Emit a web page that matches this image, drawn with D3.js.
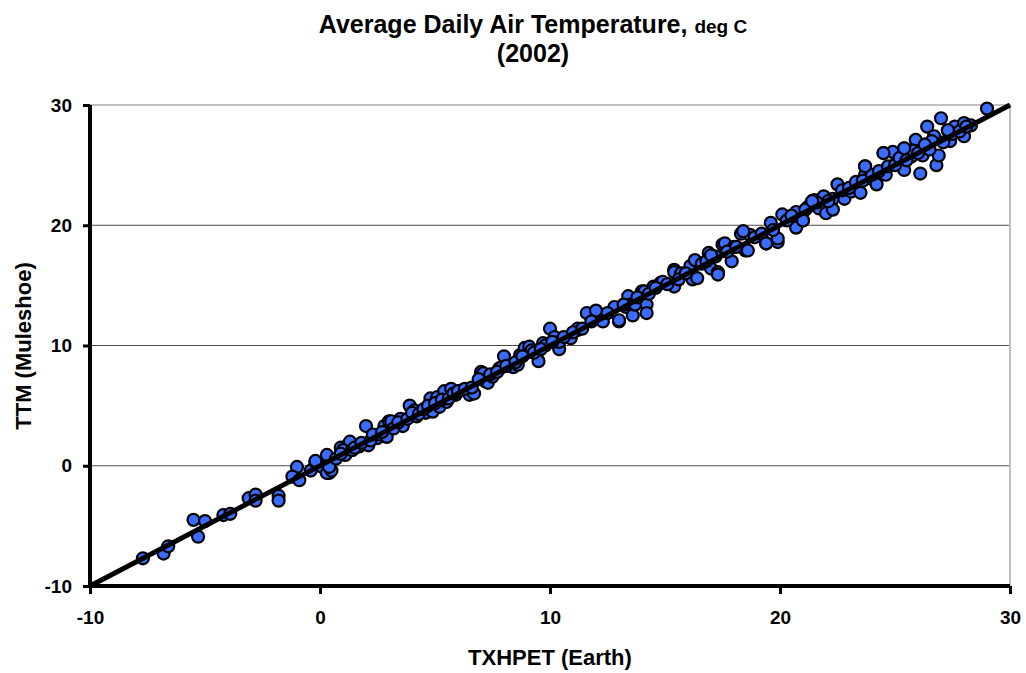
<!DOCTYPE html>
<html>
<head>
<meta charset="utf-8">
<script src="https://cdn.jsdelivr.net/npm/d3@7"></script>
<style>
  body { margin: 0; background: #fff; }
  text { font-family: "Liberation Sans", Arial, sans-serif; font-weight: bold; fill: #000; }
</style>
</head>
<body>
<svg id="chart" width="1026" height="673"></svg>
<script>
// values (Earth vs Muleshoe, deg C)
const earthTemp = [
  -7.7, -6.8, -6.6, -5.5, -5.0, -5.3, -4.2, -3.9, -3.1, -2.8, -2.8, -1.8, -1.8,
  -1.0, -1.2, -0.9, -0.4, -0.2, 0.1, 0.3, 0.4, 0.3, 0.5, -0.2, 0.4,
  0.9, 1.2, 1.1, 1.3, 1.0, 1.7, 2.0, 2.1, 2.5, 2.6, 2.8, 2.9, 3.0, 3.1, 3.5, 3.6,
  3.9, 4.1, 4.2, 4.6, 4.8, 4.9, 5.1, 5.2, 5.4, 5.5, 5.7, 5.9, 6.2, 6.4, 6.5, 6.7,
  7.0, 7.0, 7.1, 7.2, 7.3, 7.5, 7.8, 7.9, 8.0, 8.3, 8.4, 8.6, 8.7, 8.9, 9.1, 9.2,
  9.5, 9.7, 9.8, 10.0, 10.2, 10.4, 10.4, 10.9, 11.2, 11.2, 11.6, 12.0, 12.3,
  12.8, 13.0, 13.0, 13.3, 13.4, 13.5, 13.6, 13.7, 14.0, 14.1, 14.2, 14.2, 14.5,
  14.8, 14.9, 15.4, 15.4, 15.4, 15.7, 16.1, 16.2, 16.3, 16.4, 16.9, 17.0, 17.0,
  17.3, 17.3, 17.5, 17.6, 17.9, 18.0, 18.3, 18.4, 18.5, 18.6, 18.7, 19.4, 19.4,
  19.6, 19.9, 19.9, 20.1, 20.7, 20.7, 21.0, 21.2, 21.4, 21.5, 21.7, 21.9, 22.0,
  22.3, 22.3, 22.5, 22.8, 23.1, 23.5, 23.7, 23.7, 23.9, 24.2, 24.5, 24.6, 24.9,
  25.1, 25.4, 25.4, 25.7, 25.9, 26.1, 26.2, 26.3, 26.4, 26.7, 26.8, 26.9, 27.0,
  27.3, 27.4, 27.6, 28.0, 28.0, 28.3, 29.0,
  0.7, 0.9, 1.4, 1.5, 1.8, 2.2, 2.3, 2.7, 3.2, 3.4, 3.8, 4.0, 4.3, 4.5, 4.7,
  5.0, 5.3, 5.6, 5.8, 6.0, 6.3, 6.6, 6.9, 7.4, 7.7, 8.1, 8.5, 8.8, 9.3, 9.6,
  10.1, 10.6, 11.0, 11.4, 11.8, 12.5, 13.2, 13.8, 14.3, 14.6, 15.1, 15.6, 15.9,
  16.6, 16.8, 17.2, 17.7, 18.1, 18.9, 19.2, 19.7, 20.3, 20.5, 21.1, 21.6, 22.1,
  22.7, 23.0, 23.3, 23.6, 24.0, 24.3, 24.7, 25.0, 25.2, 25.5, 25.8, 26.0, 26.5,
  26.6, 27.1, 27.5, 27.8, 28.1, 17.0, 18.4, 19.4, 21.0, 21.4, 23.7, 24.5, 25.4,
  26.3, 27.3
];
const mulesTemp = [
  -7.7, -7.3, -6.7, -4.5, -4.6, -5.9, -4.1, -4.0, -2.7, -2.4, -2.9, -2.5, -2.9,
  -0.1, -0.9, -1.2, -0.4, 0.3, -0.1, 0.9, -0.6, -0.6, -0.4, 0.4, -0.1,
  1.5, 1.7, 0.9, 2.0, 1.3, 1.6, 3.3, 1.7, 2.3, 2.6, 3.3, 2.4, 3.7, 3.7, 3.9, 3.3,
  5.0, 4.6, 4.1, 4.4, 5.6, 4.5, 5.7, 4.9, 6.2, 5.3, 6.4, 5.9, 6.3, 6.3, 5.9, 6.0,
  7.8, 7.4, 7.7, 7.0, 6.9, 7.4, 8.1, 8.2, 9.1, 8.4, 8.2, 8.4, 9.2, 9.8, 9.9, 9.6,
  8.7, 10.2, 10.0, 11.4, 10.7, 9.7, 10.3, 10.6, 11.3, 11.4, 12.7, 12.9, 12.0,
  13.2, 12.0, 12.1, 13.2, 14.1, 13.4, 12.5, 13.4, 14.5, 14.5, 13.4, 12.7, 14.9,
  15.2, 15.3, 16.3, 16.1, 14.9, 16.0, 16.6, 15.5, 17.1, 15.6, 17.7, 17.5, 16.4,
  16.1, 15.9, 18.4, 18.5, 17.0, 18.2, 19.3, 19.5, 17.9, 17.9, 19.2, 18.5, 18.5,
  20.2, 18.6, 18.9, 20.9, 19.8, 21.1, 20.4, 21.5, 22.0, 22.1, 21.4, 22.4, 21.0,
  22.2, 21.3, 23.4, 22.2, 22.8, 22.7, 24.9, 24.2, 23.9, 23.4, 26.0, 24.2, 26.1,
  25.3, 26.4, 24.6, 25.7, 27.1, 24.3, 25.8, 26.7, 28.2, 27.4, 25.0, 25.8, 28.9,
  27.9, 27.0, 28.2, 28.5, 27.4, 28.3, 29.7,
  0.6, 1.0, 1.3, 1.5, 1.9, 2.1, 2.6, 2.8, 3.1, 3.6, 3.9, 4.4, 4.3, 4.7, 5.0,
  5.2, 5.5, 5.6, 6.0, 6.2, 6.4, 6.5, 7.2, 7.6, 7.8, 8.3, 8.6, 9.1, 9.4, 9.7,
  10.3, 10.7, 11.1, 11.4, 12.0, 12.7, 13.4, 14.0, 14.3, 14.8, 15.1, 15.5, 16.0,
  16.8, 17.0, 17.4, 17.8, 18.2, 19.0, 19.3, 19.6, 20.4, 20.8, 21.3, 21.9, 22.0,
  22.9, 23.1, 23.6, 23.7, 24.2, 24.5, 24.9, 25.0, 25.6, 25.4, 26.2, 26.0, 26.3,
  27.0, 26.9, 27.6, 27.8, 28.2, 17.5, 19.5, 18.5, 20.4, 22.0, 24.9, 26.0, 26.4,
  26.7, 27.9
];
const fitX = [-10, 30];
const fitY = [-10, 30];
const xTicks = [-10, 0, 10, 20, 30];
const yTicks = [-10, 0, 10, 20, 30];

const svg = d3.select('#chart');
const plotL = 90, plotR = 1010, plotT = 105, plotB = 586;

const x = d3.scaleLinear().domain([-10, 30]).range([plotL, plotR]);
const y = d3.scaleLinear().domain([-10, 30]).range([plotB, plotT]);

// grid lines
svg.append('g')
  .selectAll('line')
  .data(yTicks.filter(d => d > -10 && d < 30))
  .enter().append('line')
    .attr('x1', plotL).attr('x2', plotR)
    .attr('y1', d => y(d)).attr('y2', d => y(d))
    .attr('stroke', '#4d4d4d')
    .attr('stroke-width', 1);

// plot frame (top / right)
svg.append('path')
  .attr('d', `M${plotL},${plotT}H${plotR}V${plotB}`)
  .attr('fill', 'none')
  .attr('stroke', '#c0c0c0')
  .attr('stroke-width', 2);

// axes (plain hyphen for negatives, like the original)
const fmt = d => String(d);
const xAxis = svg.append('g')
  .attr('transform', `translate(0,${plotB})`)
  .call(d3.axisBottom(x).tickValues(xTicks).tickFormat(fmt).tickSize(8).tickPadding(17));
const yAxis = svg.append('g')
  .attr('transform', `translate(${plotL},0)`)
  .call(d3.axisLeft(y).tickValues(yTicks).tickFormat(fmt).tickSize(7).tickPadding(11));

[xAxis, yAxis].forEach(g => {
  g.select('.domain').attr('stroke', '#000').attr('stroke-width', 4);
  g.selectAll('.tick line').attr('stroke', '#000').attr('stroke-width', 3);
  g.selectAll('.tick text')
    .attr('fill', '#000')
    .style('font-size', '19px')
    .style('font-family', '"Liberation Sans", Arial, sans-serif')
    .style('font-weight', 'bold');
});
xAxis.select('.domain').attr('d', `M${plotL - 2},0H${plotR}`);
yAxis.select('.domain').attr('d', `M0,${plotT}V${plotB + 2}`);

// points
const pts = earthTemp.map((d, i) => ({e: d, m: mulesTemp[i]}));
svg.append('g')
  .selectAll('circle')
  .data(pts)
  .enter().append('circle')
    .attr('cx', d => x(d.e))
    .attr('cy', d => y(d.m))
    .attr('r', 6)
    .attr('fill', '#3a6cff')
    .attr('stroke', '#000')
    .attr('stroke-width', 2.2);

// 1:1 line
svg.append('path')
  .datum(fitX.map((d, i) => [d, fitY[i]]))
  .attr('d', d3.line().x(d => x(d[0])).y(d => y(d[1])))
  .attr('stroke', '#000')
  .attr('stroke-width', 5)
  .attr('fill', 'none');

// titles
const title = svg.append('text')
  .attr('x', 533).attr('y', 33)
  .attr('text-anchor', 'middle')
  .style('font-size', '25px');
title.append('tspan').text('Average Daily Air Temperature, ');
title.append('tspan').style('font-size', '19px').text('deg C');

svg.append('text')
  .attr('x', 533).attr('y', 62)
  .attr('text-anchor', 'middle')
  .style('font-size', '25px')
  .text('(2002)');

svg.append('text')
  .attr('x', 550).attr('y', 665)
  .attr('text-anchor', 'middle')
  .style('font-size', '22px')
  .text('TXHPET (Earth)');

svg.append('text')
  .attr('transform', 'translate(31,346) rotate(-90)')
  .attr('text-anchor', 'middle')
  .style('font-size', '22px')
  .text('TTM (Muleshoe)');
</script>
</body>
</html>
